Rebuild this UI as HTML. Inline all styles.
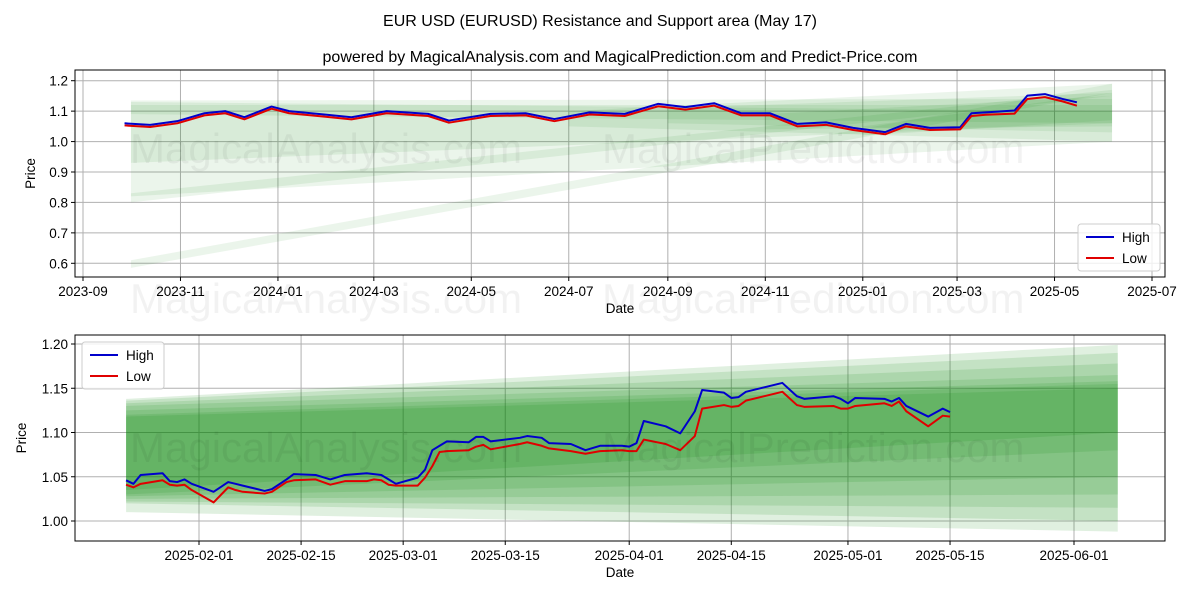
<!DOCTYPE html>
<html><head><meta charset="utf-8"><style>
body{margin:0;background:#fff;}
svg{display:block;font-family:"Liberation Sans","DejaVu Sans",sans-serif;}
</style></head><body>
<svg id="chart" width="1200" height="600" viewBox="0 0 1200 600" xmlns="http://www.w3.org/2000/svg">
<rect width="1200" height="600" fill="#fff"/>
<text x="600" y="26" text-anchor="middle" font-size="16">EUR USD (EURUSD) Resistance and Support area (May 17)</text>
<text x="620" y="62" text-anchor="middle" font-size="16">powered by MagicalAnalysis.com and MagicalPrediction.com and Predict-Price.com</text>
<g id="top"></g>
<g id="bot"></g>
<g fill="#000" fill-opacity="0.05" font-size="42">
<text x="130" y="163">MagicalAnalysis.com</text>
<text x="602" y="163">MagicalPrediction.com</text>
<text x="130" y="313">MagicalAnalysis.com</text>
<text x="602" y="313">MagicalPrediction.com</text>
<text x="130" y="462">MagicalAnalysis.com</text>
<text x="602" y="462">MagicalPrediction.com</text>
</g>
</svg>
<script>
// ---------- top chart data ----------
const topDates=["2023-09-27","2023-10-13","2023-10-30","2023-11-16","2023-11-29","2023-12-11","2023-12-28","2024-01-08","2024-01-30","2024-02-16","2024-03-09","2024-04-04","2024-04-17","2024-05-13","2024-06-04","2024-06-22","2024-07-14","2024-08-05","2024-08-26","2024-09-12","2024-09-30","2024-10-17","2024-11-04","2024-11-21","2024-12-09","2024-12-26","2025-01-15","2025-01-28","2025-02-12","2025-03-03","2025-03-10","2025-03-19","2025-04-06","2025-04-14","2025-04-25","2025-05-06","2025-05-15"];
const topHigh=[1.060,1.055,1.067,1.093,1.100,1.080,1.115,1.100,1.089,1.080,1.100,1.091,1.069,1.091,1.093,1.074,1.096,1.091,1.124,1.113,1.126,1.093,1.093,1.058,1.063,1.045,1.031,1.058,1.045,1.047,1.093,1.096,1.102,1.151,1.156,1.140,1.129];
const topLow=[1.053,1.048,1.060,1.086,1.093,1.073,1.108,1.093,1.082,1.073,1.093,1.084,1.062,1.084,1.086,1.067,1.089,1.084,1.116,1.105,1.118,1.086,1.086,1.050,1.055,1.038,1.024,1.050,1.038,1.040,1.084,1.088,1.092,1.140,1.146,1.132,1.118];
const topBandStart=["2023-10-01","2023-10-01","2023-10-01","2023-10-01","2023-10-01","2024-07-01","2024-09-01","2024-11-01","2025-01-01"];
const topBandStartLow=[0.82,0.80,0.585,1.09,0.93,1.05,1.06,1.04,1.02];
const topBandStartHigh=[1.135,0.83,0.61,1.13,1.12,1.10,1.11,1.09,1.05];
const topBandEndLow=[1.00,1.15,1.16,1.06,1.06,1.00,1.03,1.05,1.07];
const topBandEndHigh=[1.14,1.17,1.19,1.10,1.12,1.19,1.16,1.15,1.16];
const topBandEnd="2025-06-06";
const topYTicks=[0.6,0.7,0.8,0.9,1.0,1.1,1.2];
const topXTicks=["2023-09","2023-11","2024-01","2024-03","2024-05","2024-07","2024-09","2024-11","2025-01","2025-03","2025-05","2025-07"];
// ---------- bottom chart data ----------
const botDates=["2025-01-22","2025-01-23","2025-01-24","2025-01-27","2025-01-28","2025-01-29","2025-01-30","2025-01-31","2025-02-03","2025-02-05","2025-02-06","2025-02-07","2025-02-10","2025-02-11","2025-02-13","2025-02-14","2025-02-17","2025-02-19","2025-02-21","2025-02-24","2025-02-25","2025-02-26","2025-02-27","2025-02-28","2025-03-03","2025-03-04","2025-03-05","2025-03-06","2025-03-07","2025-03-10","2025-03-11","2025-03-12","2025-03-13","2025-03-17","2025-03-18","2025-03-20","2025-03-21","2025-03-24","2025-03-26","2025-03-28","2025-03-31","2025-04-01","2025-04-02","2025-04-03","2025-04-06","2025-04-08","2025-04-10","2025-04-11","2025-04-14","2025-04-15","2025-04-16","2025-04-17","2025-04-22","2025-04-24","2025-04-25","2025-04-29","2025-04-30","2025-05-01","2025-05-02","2025-05-06","2025-05-07","2025-05-08","2025-05-09","2025-05-12","2025-05-14","2025-05-15"];
const botHigh=[1.046,1.042,1.052,1.054,1.045,1.044,1.047,1.042,1.033,1.044,1.042,1.040,1.034,1.036,1.047,1.053,1.052,1.047,1.052,1.054,1.053,1.052,1.047,1.042,1.049,1.058,1.080,1.085,1.090,1.089,1.095,1.095,1.090,1.094,1.096,1.094,1.088,1.087,1.080,1.085,1.085,1.084,1.088,1.113,1.107,1.099,1.124,1.148,1.145,1.139,1.140,1.146,1.156,1.141,1.138,1.141,1.138,1.133,1.139,1.138,1.135,1.139,1.130,1.118,1.127,1.123];
const botLow=[1.041,1.038,1.042,1.046,1.041,1.040,1.041,1.035,1.021,1.038,1.035,1.033,1.031,1.033,1.044,1.046,1.047,1.041,1.045,1.045,1.047,1.046,1.041,1.040,1.040,1.049,1.062,1.078,1.079,1.080,1.084,1.086,1.081,1.087,1.089,1.085,1.082,1.079,1.076,1.079,1.080,1.079,1.079,1.092,1.087,1.080,1.096,1.127,1.131,1.129,1.130,1.136,1.146,1.131,1.129,1.130,1.127,1.127,1.130,1.133,1.130,1.135,1.124,1.107,1.119,1.118];
const botBandStart="2025-01-22", botBandEnd="2025-06-07";
const botBandStartLow=[1.010,1.020,1.022,1.025,1.028,1.030,1.035];
const botBandStartHigh=[1.138,1.136,1.133,1.130,1.125,1.120,1.118];
const botBandEndLow=[0.988,1.000,1.015,1.030,1.050,1.080,1.100];
const botBandEndHigh=[1.199,1.190,1.178,1.165,1.158,1.155,1.150];
const botYTicks=[1.00,1.05,1.10,1.15,1.20];
const botXTicks=["2025-02-01","2025-02-15","2025-03-01","2025-03-15","2025-04-01","2025-04-15","2025-05-01","2025-05-15","2025-06-01"];

const NS="http://www.w3.org/2000/svg";
const day=s=>{const p=s.split("-").map(Number);return Date.UTC(p[0],p[1]-1,p[2]||1)/864e5;};
function mk(parent,tag,attrs){const e=document.createElementNS(NS,tag);for(const k in attrs)e.setAttribute(k,attrs[k]);parent.appendChild(e);return e;}

function drawChart(g,cfg){
  const {L,R,T,B}=cfg;
  const X=d=>cfg.px0+(day(d)-day(cfg.x0))/(day(cfg.x1)-day(cfg.x0))*(cfg.px1-cfg.px0);
  const Y=v=>cfg.py0+(v-cfg.y0)/(cfg.y1-cfg.y0)*(cfg.py1-cfg.py0);
  const clip="clip"+g.id;
  const cp=mk(g,"clipPath",{id:clip});
  mk(cp,"rect",{x:L,y:T,width:R-L,height:B-T});
  cfg.yTicks.forEach(v=>{
    const l=mk(g,"line",{x1:L,x2:R,y1:Y(v),y2:Y(v),stroke:"#b0b0b0","stroke-width":1});
    
    
    const tk=mk(g,"line",{x1:L-4,x2:L,y1:Y(v),y2:Y(v),stroke:"#000"});
    
    
    const t=mk(g,"text",{x:L-7,y:Y(v)+5,"text-anchor":"end","font-size":"13.5"});
    t.textContent=cfg.yFmt(v);
    
    
  });
  cfg.xTicks.forEach(d=>{
    const x=X(d);
    const l=mk(g,"line",{x1:x,x2:x,y1:T,y2:B,stroke:"#b0b0b0","stroke-width":1});
    
    
    const tk=mk(g,"line",{x1:x,x2:x,y1:B,y2:B+4,stroke:"#000"});
    
    
    const t=mk(g,"text",{x:x,y:B+19,"text-anchor":"middle","font-size":"13.5"});
    t.textContent=d;
    
    
  });
  const bg=mk(g,"g",{"clip-path":`url(#${clip})`});
  cfg.bands.forEach(b=>{
    const xa=X(b.s),xb=X(b.e);
    const p=mk(bg,"polygon",{points:`${xa},${Y(b.sh)} ${xb},${Y(b.eh)} ${xb},${Y(b.el)} ${xa},${Y(b.sl)}`,fill:"#008000","fill-opacity":b.a});
    
    
  });
  const line=(vals,color,name)=>{
    const pl=mk(g,"polyline",{points:cfg.dates.map((d,i)=>X(d)+","+Y(vals[i])).join(" "),fill:"none",stroke:color,"stroke-width":2,"stroke-linejoin":"round"});
    
    
  };
  line(cfg.high,"#0000cc","high-line");
  line(cfg.low,"#e00000","low-line");
  const fr=mk(g,"rect",{x:L,y:T,width:R-L,height:B-T,fill:"none",stroke:"#000","stroke-width":1});
  
  
  const xl=mk(g,"text",{x:(L+R)/2,y:B+36,"text-anchor":"middle","font-size":"13.5"});
  xl.textContent="Date";
  
  
  const yl=mk(g,"text",{x:cfg.ylx,y:(T+B)/2,"text-anchor":"middle","font-size":"13.5",transform:`rotate(-90 ${cfg.ylx} ${(T+B)/2})`});
  yl.textContent="Price";
  
  
  const [lx,ly]=cfg.leg;
  const lg=mk(g,"g",{});
  
  
  mk(lg,"rect",{x:lx,y:ly,width:82,height:47,rx:3,fill:"#fff","fill-opacity":0.8,stroke:"#ccc"});
  [["High","#0000cc"],["Low","#e00000"]].forEach((it,i)=>{
    const e=mk(lg,"g",{});
    
    
    mk(e,"line",{x1:lx+8,x2:lx+36,y1:ly+13+i*21,y2:ly+13+i*21,stroke:it[1],"stroke-width":2});
    const t=mk(e,"text",{x:lx+44,y:ly+18+i*21,"font-size":"13.5"});
    t.textContent=it[0];
  });
}
drawChart(document.getElementById("top"),{L:75,R:1165,T:70,B:277,
  x0:"2023-09-01",x1:"2025-07-01",px0:83,px1:1152,y0:0.6,y1:1.2,py0:263.3,py1:80.7,
  yTicks:topYTicks,xTicks:topXTicks,yFmt:v=>v.toFixed(1),ylx:35,leg:[1078,224],
  dates:topDates,high:topHigh,low:topLow,
  bands:topBandStart.map((s,i)=>({s:s,e:topBandEnd,sl:topBandStartLow[i],sh:topBandStartHigh[i],el:topBandEndLow[i],eh:topBandEndHigh[i],a:0.08}))});
drawChart(document.getElementById("bot"),{L:75,R:1165,T:335,B:541,
  x0:"2025-02-01",x1:"2025-06-01",px0:199,px1:1074,y0:1.0,y1:1.2,py0:521,py1:344,
  yTicks:botYTicks,xTicks:botXTicks,yFmt:v=>v.toFixed(2),ylx:26,leg:[82,342],
  dates:botDates,high:botHigh,low:botLow,
  bands:botBandStartLow.map((v,i)=>({s:botBandStart,e:botBandEnd,sl:v,sh:botBandStartHigh[i],el:botBandEndLow[i],eh:botBandEndHigh[i],a:0.12}))});
</script>
</body></html>
